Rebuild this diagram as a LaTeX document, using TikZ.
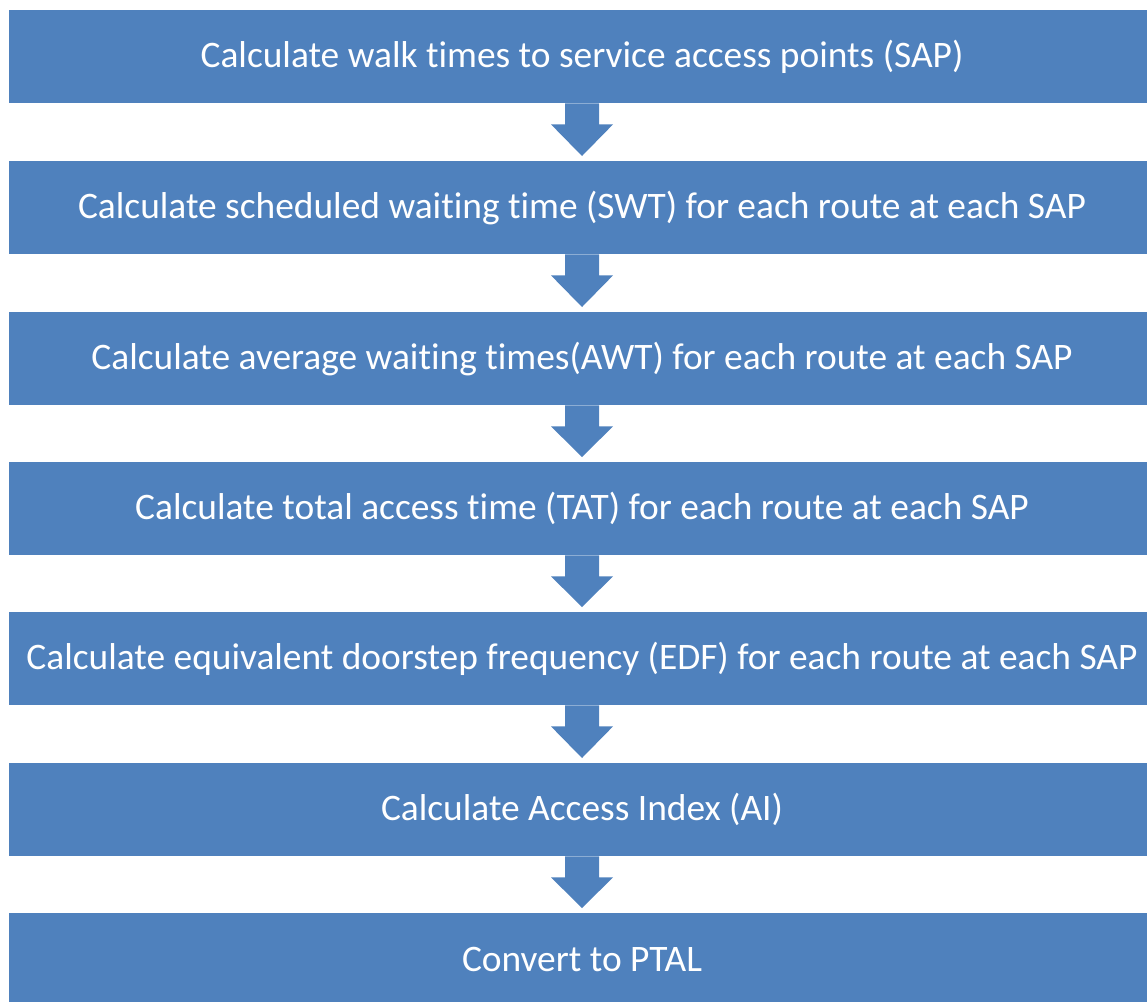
\documentclass[tikz,border=0pt]{standalone}
\usepackage{fontspec}
\setmainfont[Ligatures={NoCommon}]{Carlito}
\usetikzlibrary{calc}
\definecolor{boxblue}{HTML}{4F81BD}
\tikzset{
  stepbox/.style={fill=boxblue, draw=none, minimum width=1146pt, minimum height=93pt,
    inner sep=0pt, text=white, font=\fontsize{37.4}{45}\selectfont, anchor=north},
  blockarrow/.style={fill=boxblue, draw=none}
}
\newcommand{\downarrowblock}[2]{%
  \fill[blockarrow] ($(#1.south)+(-17pt,0)$) -- ($(#1.south)+(-17pt,-21pt)$) -- ($(#1.south)+(-31pt,-21pt)$)
    -- ($(#2.north)+(0,5pt)$) -- ($(#1.south)+(31pt,-21pt)$) -- ($(#1.south)+(17pt,-21pt)$)
    -- ($(#1.south)+(17pt,0)$) -- cycle;}
\begin{document}
\begin{tikzpicture}[x=1pt,y=-1pt]
\useasboundingbox (0,0) rectangle (1147,1001);
\clip (0,0) rectangle (1147,1001);
\node[stepbox] (s1) at (582,10) {Calculate walk times to service access points (SAP)};
\node[stepbox] (s2) at (582,161) {Calculate scheduled waiting time (SWT) for each route at each SAP};
\node[stepbox] (s3) at (582,312) {Calculate average waiting times(AWT) for each route at each SAP};
\node[stepbox] (s4) at (582,462) {Calculate total access time (TAT) for each route at each SAP};
\node[stepbox] (s5) at (582,612) {Calculate equivalent doorstep frequency (EDF) for each route at each SAP};
\node[stepbox] (s6) at (582,763) {Calculate Access Index (AI)};
\node[stepbox] (s7) at (582,913) {Convert to PTAL};
\downarrowblock{s1}{s2}
\downarrowblock{s2}{s3}
\downarrowblock{s3}{s4}
\downarrowblock{s4}{s5}
\downarrowblock{s5}{s6}
\downarrowblock{s6}{s7}
\end{tikzpicture}
\end{document}
